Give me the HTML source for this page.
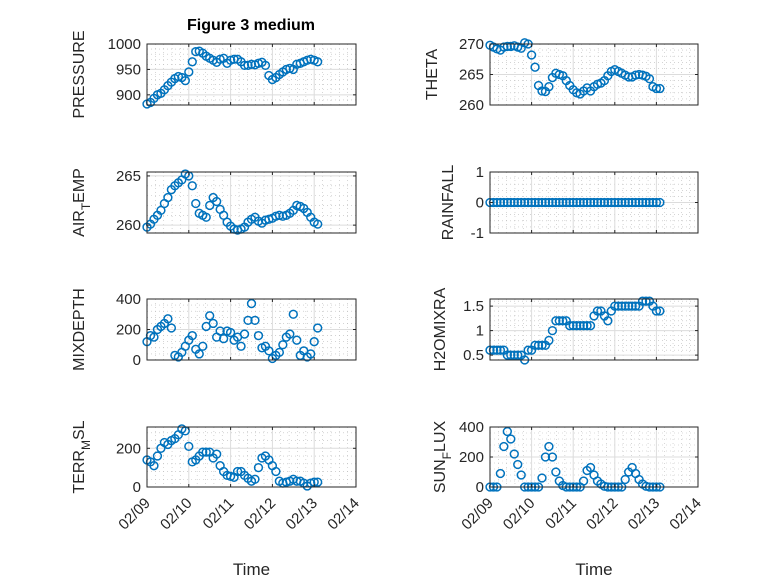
<!DOCTYPE html>
<html><head><meta charset="utf-8"><style>
body{margin:0;background:#fff}
svg{display:block;font-family:"Liberation Sans","DejaVu Sans",sans-serif}
</style></head><body>
<svg id="fig" width="778" height="583" viewBox="0 0 778 583">
<rect width="778" height="583" fill="#fff"/>
<text x="251" y="30" text-anchor="middle" font-size="16" font-weight="bold" fill="#000">Figure 3 medium</text>
</svg>
<script>
const days = ["02/09","02/10","02/11","02/12","02/13","02/14"];
const pressure = [882,885,893,900,903,910,918,925,932,936,934,928,945,965,985,986,982,976,972,968,964,970,972,962,968,970,970,965,958,958,960,959,962,964,958,938,930,934,940,945,950,952,950,960,962,965,968,970,968,965];
const theta = [269.8,269.5,269.2,269.0,269.5,269.6,269.6,269.7,269.5,269.3,270.2,270.0,268.2,266.2,263.2,262.3,262.2,263.0,264.5,265.2,265.0,264.8,264.0,263.2,262.5,262.0,261.8,262.3,262.8,262.3,263.0,263.4,263.6,264.0,264.8,265.5,265.8,265.5,265.2,264.9,264.6,264.6,264.9,265.0,264.9,264.7,264.3,263.0,262.7,262.7];
const airTemp = [259.8,260.1,260.6,261.0,261.5,262.2,262.8,263.6,264.0,264.3,264.6,265.2,265.0,264.0,262.2,261.2,261.0,260.8,262.0,262.8,262.4,261.6,261.0,260.3,259.9,259.6,259.5,259.6,259.8,260.3,260.6,260.8,260.4,260.2,260.5,260.6,260.7,260.9,261.0,260.9,261.0,261.2,261.5,262.0,261.9,261.7,261.3,260.8,260.3,260.1];
const rainfall = [0,0,0,0,0,0,0,0,0,0,0,0,0,0,0,0,0,0,0,0,0,0,0,0,0,0,0,0,0,0,0,0,0,0,0,0,0,0,0,0,0,0,0,0,0,0,0,0,0,0];
const mixDepth = [120,160,150,200,220,240,270,210,30,20,50,90,130,160,70,40,90,220,290,240,150,190,140,190,180,130,150,90,170,260,370,260,160,80,90,60,10,30,50,100,150,170,300,130,30,60,20,40,120,210];
const h2oMix = [0.6,0.6,0.6,0.6,0.6,0.5,0.5,0.5,0.5,0.5,0.4,0.6,0.6,0.7,0.7,0.7,0.7,0.8,1.0,1.2,1.2,1.2,1.2,1.1,1.1,1.1,1.1,1.1,1.1,1.1,1.3,1.4,1.4,1.3,1.2,1.4,1.5,1.5,1.5,1.5,1.5,1.5,1.5,1.5,1.6,1.6,1.6,1.5,1.4,1.4];
const terrMsl = [140,130,110,160,200,230,220,240,250,270,300,290,210,130,140,160,180,180,180,150,170,110,80,60,55,50,80,80,60,45,30,40,100,150,160,140,110,80,30,20,25,30,40,30,30,20,5,20,25,25];
const sunFlux = [0,0,0,90,270,370,320,220,150,80,0,0,0,0,0,60,200,270,200,100,40,10,0,0,0,0,0,40,110,130,80,40,20,5,0,0,0,0,0,50,100,130,90,50,20,5,0,0,0,0];
const stepDays = 1/12;

const NS="http://www.w3.org/2000/svg";
const svg=document.getElementById('fig');
function mk(tag,attrs,parent){const e=document.createElementNS(NS,tag);for(const k in attrs)e.setAttribute(k,attrs[k]);(parent||svg).appendChild(e);return e;}

const panels=[
 {key:'pressure',data:pressure,x0:147,x1:356,y0:44,y1:105,ymin:880,ymax:1000,ticks:[900,950,1000],minor:10,label:['PRESSURE'],lx:84},
 {key:'theta',data:theta,x0:490,x1:698,y0:44,y1:105,ymin:260,ymax:270,ticks:[260,265,270],minor:1,label:['THETA'],lx:437},
 {key:'air-temp',data:airTemp,x0:147,x1:356,y0:172,y1:233,ymin:259.2,ymax:265.4,ticks:[260,265],minor:1,label:['AIR','T','EMP'],lx:84},
 {key:'rainfall',data:rainfall,x0:490,x1:698,y0:172,y1:233,ymin:-1,ymax:1,ticks:[-1,0,1],minor:0.2,label:['RAINFALL'],lx:453},
 {key:'mixdepth',data:mixDepth,x0:147,x1:356,y0:299,y1:360,ymin:0,ymax:400,ticks:[0,200,400],minor:40,label:['MIXDEPTH'],lx:84},
 {key:'h2omixra',data:h2oMix,x0:490,x1:698,y0:299,y1:360,ymin:0.4,ymax:1.645,ticks:[0.5,1,1.5],minor:0.1,label:['H2OMIXRA'],lx:445},
 {key:'terr-msl',data:terrMsl,x0:147,x1:356,y0:427,y1:487,ymin:0,ymax:310,ticks:[0,200],minor:40,label:['TERR','M','SL'],lx:84},
 {key:'sun-flux',data:sunFlux,x0:490,x1:698,y0:427,y1:487,ymin:0,ymax:400,ticks:[0,200,400],minor:40,label:['SUN','F','LUX'],lx:445}
];

panels.forEach((p,pi)=>{
 const g=mk('g',{});
 
 
 const xs=d=>p.x0+(d/5)*(p.x1-p.x0);
 const ys=v=>p.y1-(v-p.ymin)/(p.ymax-p.ymin)*(p.y1-p.y0);
 mk('rect',{x:p.x0,y:p.y0,width:p.x1-p.x0,height:p.y1-p.y0,fill:'#fff'},g);
 for(let d=0.2;d<5;d+=0.2){if(Math.abs(d-Math.round(d))<1e-6)continue;const x=xs(d);mk('line',{x1:x,x2:x,y1:p.y0,y2:p.y1,stroke:'#bbb','stroke-width':0.6,'stroke-dasharray':'1 3'},g);}
 for(let v=Math.ceil(p.ymin/p.minor)*p.minor;v<p.ymax;v+=p.minor){if(p.ticks.some(t=>Math.abs(t-v)<1e-6))continue;const y=ys(v);mk('line',{x1:p.x0,x2:p.x1,y1:y,y2:y,stroke:'#bbb','stroke-width':0.6,'stroke-dasharray':'1 3'},g);}
 for(let d=1;d<5;d++){const x=xs(d);mk('line',{x1:x,x2:x,y1:p.y0,y2:p.y1,stroke:'#dcdcdc','stroke-width':1},g);}
 p.ticks.forEach(t=>{const y=ys(t);mk('line',{x1:p.x0,x2:p.x1,y1:y,y2:y,stroke:'#dcdcdc','stroke-width':1},g);});
 p.data.forEach((v,i)=>{
  const c=mk('circle',{cx:xs(i*stepDays),cy:ys(v),r:3.9,fill:'none',stroke:'#0072BD','stroke-width':1.5},g);
  
  
 });
 mk('rect',{x:p.x0,y:p.y0,width:p.x1-p.x0,height:p.y1-p.y0,fill:'none',stroke:'#262626','stroke-width':1},g);
 for(let d=0;d<=5;d++){const x=xs(d);mk('line',{x1:x,x2:x,y1:p.y1,y2:p.y1-3,stroke:'#262626'},g);mk('line',{x1:x,x2:x,y1:p.y0,y2:p.y0+3,stroke:'#262626'},g);}
 p.ticks.forEach(t=>{const y=ys(t);mk('line',{x1:p.x0,x2:p.x0+3,y1:y,y2:y,stroke:'#262626'},g);mk('line',{x1:p.x1,x2:p.x1-3,y1:y,y2:y,stroke:'#262626'},g);
  const tl=mk('text',{x:p.x0-6,y:y+5,'text-anchor':'end','font-size':15,fill:'#262626'},g);tl.textContent=String(t);
  
  
 });
 const cy=(p.y0+p.y1)/2;
 const yl=mk('text',{x:0,y:0,transform:`translate(${p.lx},${cy}) rotate(-90)`,'text-anchor':'middle','font-size':16,fill:'#262626'},g);
 
 
 if(p.label.length===1){yl.textContent=p.label[0];}
 else{const a=mk('tspan',{},yl);a.textContent=p.label[0];const b=mk('tspan',{dy:6,'font-size':12},yl);b.textContent=p.label[1];const c=mk('tspan',{dy:-6},yl);c.textContent=p.label[2];}
 if(pi>=6){
  days.forEach((d,k)=>{const x=xs(k);const t=mk('text',{x:0,y:0,transform:`translate(${x+4},${p.y1+17}) rotate(-45)`,'text-anchor':'end','font-size':15,fill:'#262626'},g);t.textContent=d;
   
   
  });
  const xl=mk('text',{x:(p.x0+p.x1)/2,y:575,'text-anchor':'middle','font-size':17,fill:'#262626'},g);xl.textContent='Time';
  
  
 }
});
</script>
</body></html>
